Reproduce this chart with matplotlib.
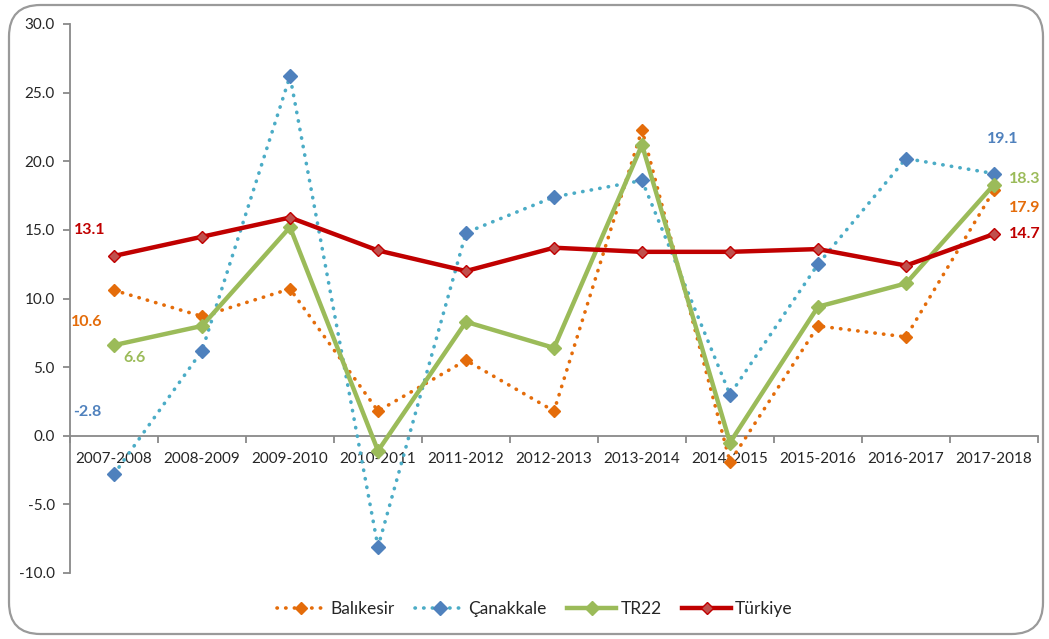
import matplotlib
matplotlib.use("Agg")
import matplotlib.pyplot as plt
from matplotlib.patches import FancyBboxPatch
from matplotlib.ticker import FixedLocator, NullFormatter, FixedFormatter

plt.rcParams['font.family'] = ['Lato', 'DejaVu Sans']

categories = ["2007-2008", "2008-2009", "2009-2010", "2010-2011", "2011-2012", "2012-2013",
              "2013-2014", "2014-2015", "2015-2016", "2016-2017", "2017-2018"]
balikesir = [10.6, 8.7, 10.7, 1.8, 5.5, 1.8, 22.3, -1.9, 8.0, 7.2, 17.9]
canakkale = [-2.8, 6.2, 26.2, -8.1, 14.8, 17.4, 18.6, 3.0, 12.5, 20.2, 19.1]
tr22 = [6.6, 8.0, 15.2, -1.1, 8.3, 6.4, 21.2, -0.5, 9.4, 11.1, 18.3]
turkiye = [13.1, 14.5, 15.9, 13.5, 12.0, 13.7, 13.4, 13.4, 13.6, 12.4, 14.7]
y_ticks = [-10, -5, 0, 5, 10, 15, 20, 25, 30]

W, H = 1049, 639
fig = plt.figure(figsize=(W / 100, H / 100), dpi=100)
ax = fig.add_axes([70 / W, 1 - 573 / H, (1038 - 70) / W, (573 - 24) / H])

x = list(range(len(categories)))
c_or = "#E46C0A"
c_bl_line = "#4BACC6"
c_bl_mk = "#4F81BD"
c_gr = "#9BBB59"
c_rd = "#C00000"
c_rd_mk = "#C0504D"

dot = (0, (0.1, 2.3))
l1, = ax.plot(x, balikesir, color=c_or, lw=2.6, linestyle=dot, dash_capstyle='round',
              marker='D', ms=6, mfc=c_or, mec=c_or, label="Balıkesir", zorder=3)
l2, = ax.plot(x, canakkale, color=c_bl_line, lw=2.6, linestyle=dot, dash_capstyle='round',
              marker='D', ms=7, mfc=c_bl_mk, mec=c_bl_mk, label="Çanakkale", zorder=3)
l3, = ax.plot(x, tr22, color=c_gr, lw=3.2, marker='D', ms=7, mfc=c_gr, mec=c_gr,
              label="TR22", zorder=4)
l4, = ax.plot(x, turkiye, color=c_rd, lw=3.2, marker='D', ms=6, mfc=c_rd_mk, mec=c_rd,
              mew=1.0, label="Türkiye", zorder=5)

ax.set_xlim(-0.5, len(categories) - 0.5)
ax.set_ylim(-10, 30)

# spines
for s in ['top', 'right']:
    ax.spines[s].set_visible(False)
ax.spines['left'].set_color('#898989')
ax.spines['bottom'].set_color('#898989')
ax.spines['left'].set_linewidth(1.3)
ax.spines['bottom'].set_linewidth(1.3)
ax.spines['bottom'].set_position(('data', 0))

ax.set_yticks(y_ticks)
ax.set_yticklabels([f"{v:.1f}" for v in y_ticks])
ax.tick_params(axis='y', direction='out', length=5, width=1.3, color='#898989',
               labelsize=11, labelcolor='#262626', pad=6)

# x ticks: labels at centers, tick marks at boundaries
ax.xaxis.set_major_locator(FixedLocator(x))
ax.xaxis.set_major_formatter(FixedFormatter(categories))
ax.xaxis.set_minor_locator(FixedLocator([i - 0.5 for i in range(len(categories) + 1)]))
ax.xaxis.set_minor_formatter(NullFormatter())
ax.tick_params(axis='x', which='major', length=0, labelsize=11, labelcolor='#262626', pad=12)
ax.tick_params(axis='x', which='minor', direction='out', length=5, width=1.3, color='#898989')

# data labels
fs = 11.5
ax.text(-0.46, 13.1 + 1.9, "13.1", color=c_rd, fontsize=fs, fontweight='bold', ha='left', va='center')
ax.text(-0.49, 10.6 - 2.3, "10.6", color=c_or, fontsize=fs, fontweight='bold', ha='left', va='center')
ax.text(0.11, 6.6 - 0.9, "6.6", color=c_gr, fontsize=fs, fontweight='bold', ha='left', va='center')
ax.text(-0.47, -2.8 + 4.5, "-2.8", color=c_bl_mk, fontsize=fs, fontweight='bold', ha='left', va='center')
ax.text(10.1, 19.1 + 2.5, "19.1", color=c_bl_mk, fontsize=fs, fontweight='bold', ha='center', va='center')
ax.text(10.17, 18.3 + 0.4, "18.3", color=c_gr, fontsize=fs, fontweight='bold', ha='left', va='center')
ax.text(10.17, 17.9 - 1.3, "17.9", color=c_or, fontsize=fs, fontweight='bold', ha='left', va='center')
ax.text(10.17, 14.7, "14.7", color=c_rd, fontsize=fs, fontweight='bold', ha='left', va='center')

leg = fig.legend(handles=[l1, l2, l3, l4], loc='center', bbox_to_anchor=(535 / W, 1 - 609 / H),
                 ncol=4, frameon=False, fontsize=12.5, handlelength=2.8, columnspacing=1.2,
                 handletextpad=0.25)
for t in leg.get_texts():
    t.set_color('#262626')

# rounded border
border = FancyBboxPatch((9 / W, 5 / H), (1043 - 9) / W, (634 - 5) / H,
                        boxstyle="round,pad=0,rounding_size=0.03",
                        transform=fig.transFigure, fill=False, edgecolor='#9A9A9A',
                        linewidth=1.6, mutation_aspect=W / H)
fig.patches.append(border)

fig.savefig("out.png", dpi=100)
